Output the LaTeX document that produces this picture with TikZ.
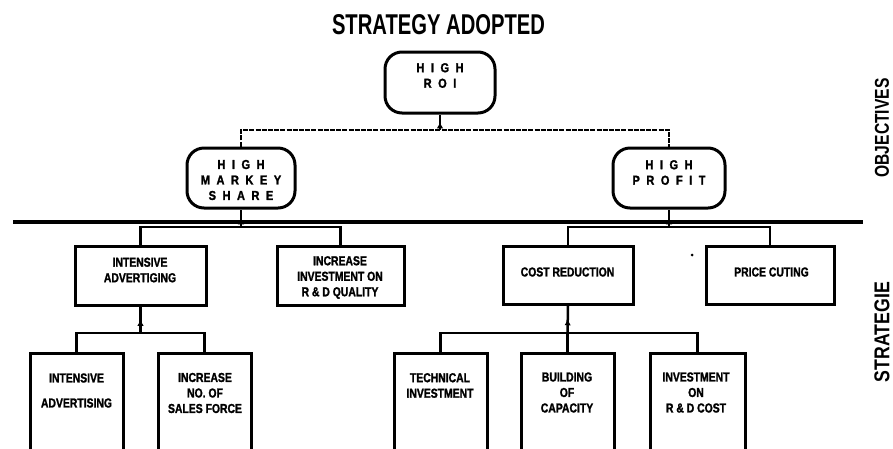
\documentclass[tikz,border=0pt]{standalone}
\usepackage{fontspec}
\usetikzlibrary{arrows.meta,decorations.markings}
\newfontfamily\myboxfont{Liberation Sans}[FakeStretch=0.8,FakeBold=1.5]
\newfontfamily\myovalfont{Liberation Sans}[FakeStretch=0.85,FakeBold=1.5]
\newfontfamily\mytitlefont{Liberation Sans}
\newcommand\lsp{\hspace{6.5pt}}
\begin{document}
\begin{tikzpicture}[x=1pt,y=-1pt,
  oval/.style={draw, line width=3pt, rounded corners=17pt, inner sep=0pt},
  box/.style={draw, line width=3pt, inner sep=0pt},
  conn/.style={line width=2.5pt},
  dashline/.style={line width=2.2pt, dash pattern=on 5pt off 1.2pt},
  axisline/.style={line width=3.2pt},
  upmark/.style={postaction={decorate}, decoration={markings,
     mark=at position 0.5 with {\arrow{Latex[length=6pt,width=6.5pt]}}}},
  ovtxt/.style={font=\myovalfont\bfseries\fontsize{13}{15.5}\selectfont, align=center, inner sep=0pt},
  bxtxt/.style={font=\myboxfont\bfseries\fontsize{13}{15.5}\selectfont, align=center, inner sep=0pt},
  side/.style={rotate=90, inner sep=0pt}
]
\useasboundingbox (0,0) rectangle (893,448);
\clip (0,0) rectangle (893,448);

% title
\node[inner sep=0pt] (title) at (438.5,25) {\resizebox{213pt}{20pt}{\mytitlefont\bfseries STRATEGY ADOPTED}};

% objectives
\node[oval, minimum width=110pt, minimum height=61pt] (roi) at (440,82.5) {};
\node[ovtxt] (roit) at (440,75.5) {H\lsp I\lsp G\lsp H\\R\lsp O\lsp I};
\node[oval, minimum width=108pt, minimum height=60pt] (markey) at (241,178) {};
\node[ovtxt] (markeyt) at (241,180) {H\lsp I\lsp G\lsp H\\M\lsp A\lsp R\lsp K\lsp E\lsp Y\\S\lsp H\lsp A\lsp R\lsp E};
\node[oval, minimum width=112pt, minimum height=60pt] (profit) at (669,178) {};
\node[ovtxt] (profitt) at (669,172.5) {H\lsp I\lsp G\lsp H\\P\lsp R\lsp O\lsp F\lsp I\lsp T};

\coordinate (jroi) at (440,130);
\coordinate (jl) at (241,130);
\coordinate (jr) at (669,130);
\draw[conn, upmark] (jroi) -- (roi.south);
\draw[dashline] (markey.north) -- (jl) -- (jr) -- (profit.north);

% dividing line
\coordinate (la) at (13,222);
\coordinate (lb) at (863,222);
\draw[axisline] (la) -- (lb);

% strategies, first level
\node[box, minimum width=131pt, minimum height=59pt] (ia) at (140.5,275.5) {};
\node[bxtxt] (iat) at (140,270) {INTENSIVE\\ADVERTIGING};
\node[box, minimum width=127pt, minimum height=59pt] (rd) at (340.5,275.5) {};
\node[bxtxt] (rdt) at (340,277.5) {INCREASE\\INVESTMENT ON\\R \& D QUALITY};
\node[box, minimum width=130pt, minimum height=58pt] (cost) at (568,275) {};
\node[bxtxt] (costt) at (567.5,272) {COST REDUCTION};
\node[box, minimum width=128pt, minimum height=58pt] (price) at (770,275) {};
\node[bxtxt] (pricet) at (771.5,272) {PRICE CUTING};
\fill (692,255) circle (1.5pt);

\coordinate (jm) at (241,227);
\coordinate (jp) at (669,227);
\draw[conn, upmark] (jm) -- (markey.south);
\draw[conn, upmark] (jp) -- (profit.south);
\draw[conn] (ia.north) |- (jm) -| (rd.north);
\draw[conn] (cost.north) |- (jp) -| (price.north);

% strategies, second level
\node[box, minimum width=93pt, minimum height=117pt] (ia2) at (76.5,411.5) {};
\node[bxtxt, font=\myboxfont\bfseries\fontsize{13}{25}\selectfont] (ia2t) at (76.5,390.5) {INTENSIVE\\ADVERTISING};
\node[box, minimum width=93pt, minimum height=117pt] (sales) at (204.5,411.5) {};
\node[bxtxt] (salest) at (205,393) {INCREASE\\NO. OF\\SALES FORCE};
\node[box, minimum width=93pt, minimum height=117pt] (tech) at (440.5,411.5) {};
\node[bxtxt] (techt) at (440,385.5) {TECHNICAL\\INVESTMENT};
\node[box, minimum width=93pt, minimum height=117pt] (build) at (567.5,411.5) {};
\node[bxtxt] (buildt) at (567,392.5) {BUILDING\\OF\\CAPACITY};
\node[box, minimum width=95pt, minimum height=117pt] (rdc) at (697.5,411.5) {};
\node[bxtxt] (rdct) at (696,392.5) {INVESTMENT\\ON\\R \& D COST};

\coordinate (jia) at (140.5,333);
\coordinate (jco) at (567.5,333);
\draw[conn, upmark] (jia) -- (ia.south);
\draw[conn, upmark] (jco) -- (cost.south);
\draw[conn] (ia2.north) |- (jia) -| (sales.north);
\draw[conn] (tech.north) |- (jco) -| (rdc.north);
\draw[conn] (jco) -- (build.north);

% side labels
\node[side] (obj) at (882,128) {\resizebox{99pt}{14pt}{\mytitlefont\bfseries OBJECTIVES}};
\node[side] (strat) at (882,332) {\resizebox{100pt}{15pt}{\mytitlefont\bfseries STRATEGIE}};
\end{tikzpicture}
\end{document}
